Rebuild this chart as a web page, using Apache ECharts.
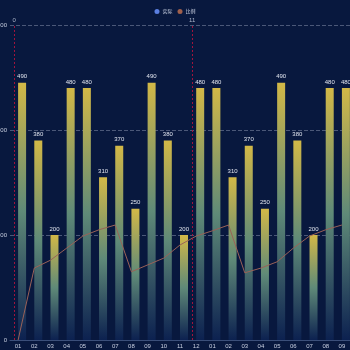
<!DOCTYPE html>
<html>
<head>
<meta charset="utf-8">
<script src="https://cdn.jsdelivr.net/npm/echarts@6/dist/echarts.min.js"></script>
<style>
  html, body { margin: 0; padding: 0; background: #08183e; }
  #chart { width: 350px; height: 350px; }
</style>
</head>
<body>
<div id="chart"></div>
<script>
// 月份
const months = ['01', '02', '03', '04', '05', '06', '07', '08', '09', '10', '11', '12',
  '01', '02', '03', '04', '05', '06', '07', '08', '09']
// 实际值
const actualValues = [490, 380, 200, 480, 480, 310, 370, 250, 490, 380, 200, 480,
  480, 310, 370, 250, 490, 380, 200, 480, 480]
// 比例
const ratioValues = [0, 137, 152, 175, 198, 210, 219, 130, 143, 156, 181, 198,
  208, 219, 128, 137, 149, 175, 198, 210, 219]
const yTicks = [0, 200, 400, 600]
const markIndexes = [0, 11]

const chart = echarts.init(document.getElementById('chart'))

const option = {
  backgroundColor: '#08183e',
  legend: {
    top: 9,
    padding: 0,
    left: 'center',
    icon: 'circle',
    itemWidth: 5,
    itemHeight: 6,
    itemGap: 5,
    textStyle: { color: '#c8cfe0', fontSize: 5, padding: [0, 0, 0, -2], fontFamily: 'Noto Sans CJK SC' },
    data: ['实际', '比例']
  },
  grid: {
    left: 10,
    right: 0,
    top: 25,
    bottom: 10,
    outerBoundsMode: 'none'
  },
  xAxis: {
    type: 'category',
    data: months,
    axisLine: { lineStyle: { color: '#3b4f7a' } },
    axisTick: { show: false },
    axisLabel: { color: '#c8cfe0', fontSize: 6, margin: 3 }
  },
  yAxis: {
    type: 'value',
    min: yTicks[0],
    max: yTicks[yTicks.length - 1],
    interval: 200,
    axisLine: { show: false },
    axisTick: { show: false },
    axisLabel: { color: '#c8cfe0', fontSize: 6, margin: 3 },
    splitLine: {
      lineStyle: { color: 'rgba(200, 210, 230, 0.35)', type: 'dashed' }
    }
  },
  series: [
    {
      name: '实际',
      type: 'bar',
      barWidth: 8,
      barGap: '0%',
      itemStyle: { color: '#5b7fe0' },
      data: [],
      markLine: {
        symbol: 'none',
        silent: true,
        lineStyle: { color: '#a0143c', type: [2, 2], width: 1, opacity: 1 },
        label: { position: 'end', distance: 2, color: '#aab3c8', fontSize: 6, formatter: p => p.value },
        data: markIndexes.map(i => ({ xAxis: i }))
      }
    },
    {
      name: '数量',
      type: 'bar',
      barWidth: 8,
      barGap: '0%',
      data: actualValues,
      label: { show: true, position: 'top', color: '#e0e4ee', fontSize: 6, distance: 3 },
      itemStyle: {
        color: new echarts.graphic.LinearGradient(0, 0, 0, 1, [
          { offset: 0, color: '#d2b847' },
          { offset: 0.5, color: '#5f8a78' },
          { offset: 1, color: '#0c2150' }
        ])
      }
    },
    {
      name: '比例',
      type: 'line',
      data: ratioValues,
      symbol: 'none',
      lineStyle: { color: '#9a6258', width: 1 },
      itemStyle: { color: '#a0604c' }
    }
  ]
}

chart.setOption(option)
</script>
</body>
</html>
